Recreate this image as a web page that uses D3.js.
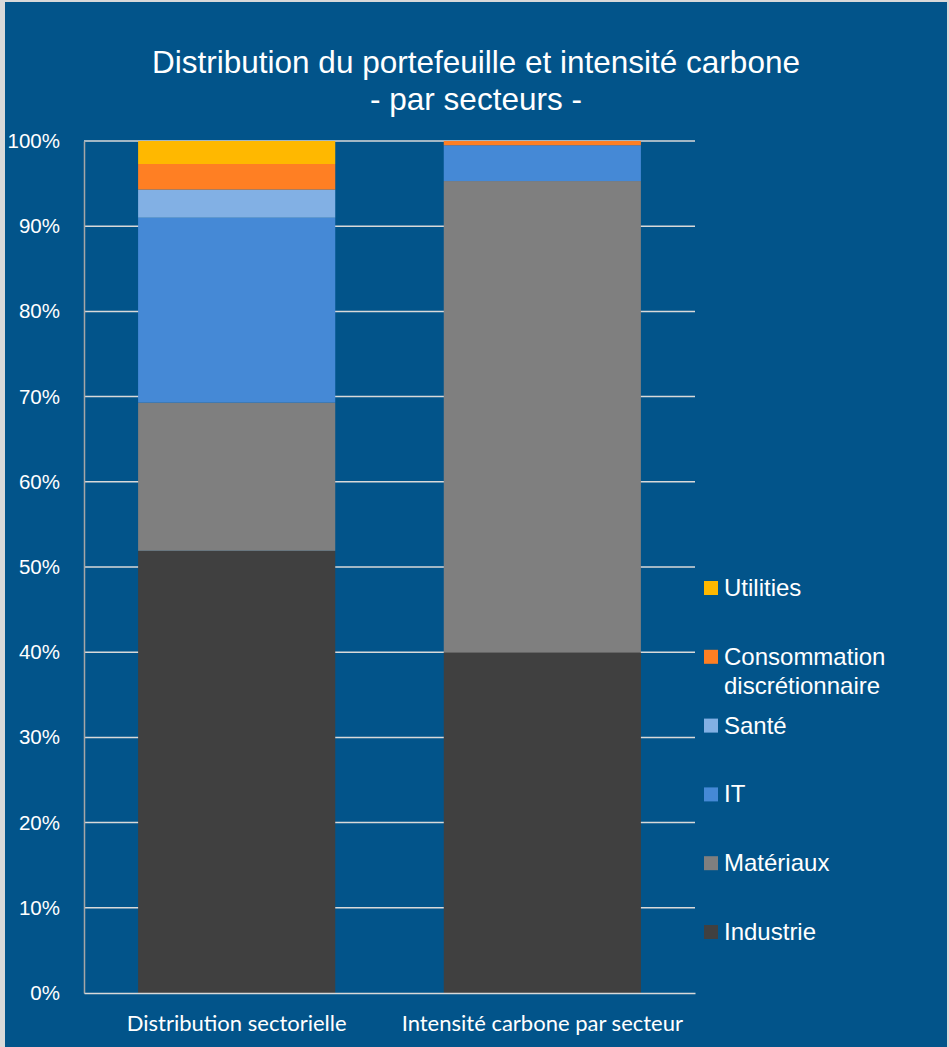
<!DOCTYPE html>
<html><head><meta charset="utf-8">
<script src="https://cdn.jsdelivr.net/npm/d3@7"></script>
<style>body{margin:0;background:#fff}svg{display:block}</style>
</head><body>
<script>
const categories = ["Distribution sectorielle", "Intensité carbone par secteur"];
const sectors = ["Industrie", "Matériaux", "IT", "Santé", "Consommation discrétionnaire", "Utilities"];
const industrie = [51.9, 40.0];
const materiaux = [17.4, 55.3];
const it = [21.7, 4.2];
const sante = [3.3, 0.0];
const consommation = [3.0, 0.5];
const utilities = [2.7, 0.0];
const colors = ["#404040", "#7f7f7f", "#4589d6", "#82b0e4", "#ff7f23", "#ffb800"];
const yTicks = [0, 10, 20, 30, 40, 50, 60, 70, 80, 90, 100];

(function () {
const W = 949, H = 1047;
const svg = d3.select("body").append("svg").attr("width", W).attr("height", H);
svg.append("rect").attr("x", 0).attr("y", 0).attr("width", W).attr("height", H).attr("fill", "#d9d9d9");
svg.append("rect").attr("x", 5).attr("y", 2).attr("width", W - 7).attr("height", H - 2).attr("fill", "#02548a");

const title = svg.append("text").attr("text-anchor", "middle").attr("fill", "#fff")
  .attr("font-family", "Liberation Sans, Arial, sans-serif").attr("font-size", 31.5);
title.append("tspan").attr("x", 476).attr("y", 73).text("Distribution du portefeuille et intensité carbone");
title.append("tspan").attr("x", 476).attr("y", 110).text("- par secteurs -");

const mLeft = 84, mRight = 695, mTop = 141, mBottom = 993;
const x = d3.scaleBand().domain(categories).range([mLeft, mRight]).paddingInner(0.355).paddingOuter(0.177);
const y = d3.scaleLinear().domain([0, 100]).range([mBottom, mTop]);

svg.append("g").selectAll("line").data(yTicks.filter(d => d > 0)).join("line")
  .attr("x1", mLeft).attr("x2", mRight).attr("y1", d => y(d)).attr("y2", d => y(d))
  .attr("stroke", "#d9d9d9").attr("stroke-width", 1.5);

const series = [industrie, materiaux, it, sante, consommation, utilities];
const rows = categories.map((c, i) => {
  const o = {cat: c};
  sectors.forEach((s, j) => o[s] = series[j][i]);
  return o;
});
const stacked = d3.stack().keys(sectors)(rows);
svg.append("g").selectAll("g").data(stacked).join("g").attr("fill", (d, i) => colors[i])
  .selectAll("rect").data(d => d).join("rect")
  .attr("x", d => x(d.data.cat)).attr("width", x.bandwidth())
  .attr("y", d => y(d[1])).attr("height", d => Math.max(0, y(d[0]) - y(d[1])));

const yAxis = svg.append("g").attr("transform", `translate(${mLeft},0)`)
  .call(d3.axisLeft(y).tickValues(yTicks).tickFormat(d => d + "%").tickSize(0).tickPadding(24));
yAxis.select(".domain").attr("stroke", "#a6a6a6").attr("stroke-width", 1.5);
yAxis.selectAll("text").attr("fill", "#fff").attr("font-size", 20.5)
  .attr("font-family", "Liberation Sans, Arial, sans-serif");

const xAxis = svg.append("g").attr("transform", `translate(0,${mBottom})`)
  .call(d3.axisBottom(x).tickSize(0).tickPadding(22));
xAxis.select(".domain").attr("stroke", "#d9d9d9").attr("stroke-width", 1.5);
xAxis.selectAll("text").attr("fill", "#fff").attr("font-size", 22)
  .attr("font-family", "Lato, Open Sans, sans-serif");

const legendItems = [
  {lines: ["Utilities"], c: 5},
  {lines: ["Consommation", "discrétionnaire"], c: 4},
  {lines: ["Santé"], c: 3},
  {lines: ["IT"], c: 2},
  {lines: ["Matériaux"], c: 1},
  {lines: ["Industrie"], c: 0}
];
const lg = svg.append("g").selectAll("g").data(legendItems).join("g")
  .attr("transform", (d, i) => `translate(704,${588 + i * 68.8})`);
lg.append("rect").attr("x", 0).attr("y", -7).attr("width", 14).attr("height", 14).attr("fill", d => colors[d.c]);
lg.append("text").attr("fill", "#fff").attr("font-size", 24)
  .attr("font-family", "Liberation Sans, Arial, sans-serif")
  .selectAll("tspan").data(d => d.lines).join("tspan")
  .attr("x", 20).attr("y", (d, i) => 8 + i * 29).text(d => d);
})();
</script>
</body></html>
